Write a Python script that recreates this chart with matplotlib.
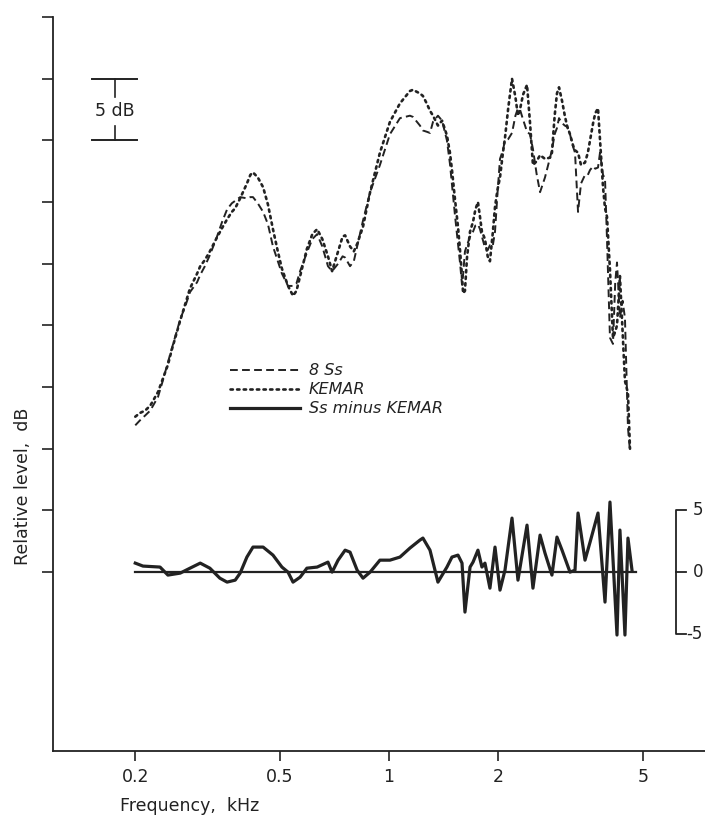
import matplotlib
matplotlib.use("Agg")
import matplotlib.pyplot as plt
import numpy as np

# ---- data (frequency in kHz, level in dB on the plot's relative scale) ----
freq_upper = [0.200, 0.206, 0.213, 0.220, 0.231, 0.237, 0.246, 0.252, 0.266, 0.275,
              0.283, 0.296, 0.302, 0.311, 0.321, 0.334, 0.347, 0.358, 0.369, 0.377,
              0.389, 0.406, 0.415, 0.422, 0.435, 0.450, 0.464, 0.479, 0.494, 0.507,
              0.527, 0.544, 0.556, 0.569, 0.594, 0.615, 0.634, 0.655, 0.679, 0.697,
              0.724, 0.745, 0.757, 0.781, 0.800, 0.817, 0.848, 0.887, 0.944, 1.006,
              1.072, 1.142, 1.164, 1.217, 1.240, 1.270, 1.297, 1.322, 1.364, 1.400,
              1.444, 1.472, 1.491, 1.520, 1.549, 1.570, 1.589, 1.600, 1.619, 1.640,
              1.672, 1.704, 1.730, 1.758, 1.781, 1.803, 1.838, 1.870, 1.897, 1.930,
              1.959, 1.990, 2.022, 2.060, 2.087, 2.130, 2.182, 2.230, 2.266, 2.295,
              2.340, 2.400, 2.445, 2.492, 2.550, 2.607, 2.690, 2.777, 2.811, 2.860,
              2.902, 2.940, 2.997, 3.050, 3.093, 3.152, 3.213, 3.254, 3.317, 3.380,
              3.467, 3.530, 3.580, 3.650, 3.700, 3.765, 3.813, 3.887, 3.936, 3.986,
              4.062, 4.140, 4.200, 4.247, 4.327, 4.400, 4.467, 4.553, 4.612]

kemar = [12.6, 12.9, 13.1, 13.5, 14.6, 15.5, 16.8, 18.0, 20.4, 21.8,
         23.0, 24.2, 24.8, 25.3, 26.0, 27.0, 27.9, 28.6, 29.2, 29.5,
         30.3, 31.5, 32.2, 32.4, 32.0, 31.2, 29.8, 27.8, 26.0, 24.6,
         23.2, 22.4, 22.8, 24.0, 26.2, 27.4, 27.8, 27.0, 25.6, 24.4,
         26.0, 27.2, 27.3, 26.4, 26.0, 26.6, 28.0, 30.8, 34.0, 36.5,
         38.0, 39.0, 39.1, 38.8, 38.6, 38.0, 37.4, 37.0, 36.2, 36.6,
         35.4, 34.0, 32.6, 30.2, 28.0, 26.0, 24.0, 22.6, 22.8, 25.5,
         27.6, 28.4, 29.4, 30.0, 28.8, 27.6, 27.0, 25.6, 25.2, 27.4,
         29.6, 31.0, 32.0, 34.0, 35.2, 37.6, 40.0, 38.5, 37.0, 37.5,
         38.7, 39.5, 36.5, 33.0, 33.3, 33.8, 33.5, 33.6, 34.0, 37.0,
         38.8, 39.3, 38.2, 37.0, 36.2, 35.5, 34.6, 34.2, 34.0, 33.0,
         33.2, 34.0, 35.0, 36.4, 37.2, 37.6, 35.0, 31.2, 29.5, 28.8,
         24.5, 19.0, 19.5, 20.0, 24.0, 19.5, 15.5, 14.5, 10.0]

subjects = [11.9, 12.3, 12.7, 13.1, 14.2, 15.3, 17.0, 18.1, 20.5, 21.6,
            22.7, 23.5, 24.1, 24.8, 25.7, 27.0, 28.4, 29.4, 29.9, 30.1,
            30.4, 30.3, 30.4, 30.4, 29.9, 29.2, 28.2, 26.4, 25.2, 24.2,
            23.2, 23.2, 23.4, 24.4, 25.9, 27.0, 27.4, 26.4, 24.8, 24.4,
            25.0, 25.6, 25.5, 24.8, 25.2, 26.4, 28.5, 30.8, 33.0, 35.5,
            36.8, 37.0, 36.9, 36.2, 35.8, 35.7, 35.6, 36.5, 37.0, 36.6,
            35.0, 33.1, 31.4, 28.9, 26.6, 25.0, 23.3, 24.1, 26.0, 26.5,
            27.2, 27.6, 28.1, 28.2, 27.8, 27.2, 26.3, 26.1, 26.5, 26.4,
            27.6, 30.7, 33.5, 34.2, 35.0, 35.1, 35.6, 37.0, 37.6, 37.5,
            36.7, 35.7, 35.5, 34.3, 32.3, 30.8, 32.0, 33.6, 34.2, 35.5,
            36.0, 36.8, 36.4, 36.2, 36.1, 35.5, 34.5, 34.0, 29.2, 31.5,
            32.2, 32.2, 32.6, 32.9, 32.7, 32.8, 34.0, 32.2, 31.9, 27.0,
            19.0, 18.5, 23.5, 25.1, 20.6, 22.0, 20.6, 11.7, 9.8]

freq_diff = [0.200, 0.210, 0.234, 0.246, 0.266, 0.283, 0.302, 0.321, 0.342, 0.358,
             0.377, 0.389, 0.406, 0.422, 0.450, 0.479, 0.507, 0.527, 0.544, 0.569,
             0.594, 0.634, 0.679, 0.697, 0.724, 0.757, 0.781, 0.817, 0.848, 0.887,
             0.944, 1.006, 1.072, 1.142, 1.217, 1.240, 1.297, 1.364, 1.444, 1.491,
             1.549, 1.589, 1.619, 1.672, 1.704, 1.758, 1.803, 1.838, 1.897, 1.959,
             2.022, 2.087, 2.182, 2.266, 2.400, 2.492, 2.607, 2.690, 2.811, 2.902,
             2.997, 3.152, 3.254, 3.317, 3.467, 3.580, 3.765, 3.936, 4.062, 4.247,
             4.327, 4.467, 4.553, 4.671]

diff = [0.73, 0.49, 0.41, -0.24, -0.08, 0.32, 0.73, 0.32, -0.49, -0.81,
        -0.65, -0.08, 1.22, 2.03, 2.03, 1.38, 0.41, 0.0, -0.81, -0.41,
        0.32, 0.41, 0.81, 0.0, 0.97, 1.78, 1.62, 0.16, -0.49, 0.0,
        0.97, 0.97, 1.22, 1.95, 2.60, 2.76, 1.78, -0.81, 0.41, 1.22,
        1.38, 0.73, -3.24, 0.41, 0.81, 1.78, 0.41, 0.73, -1.30, 2.03,
        -1.46, 0.16, 4.38, -0.65, 3.81, -1.30, 3.00, 1.54, -0.24, 2.84,
        1.78, 0.0, 0.16, 4.79, 0.97, 2.43, 4.79, -2.43, 5.68, -5.10,
        3.41, -5.10, 2.76, 0.16]

xtick_vals = [0.2, 0.5, 1, 2, 5]
xtick_labels = ["0.2", "0.5", "1", "2", "5"]
ytick_vals = [0, 5, 10, 15, 20, 25, 30, 35, 40, 45]
legend_labels = ["8 Ss", "KEMAR", "Ss minus KEMAR"]
diff_scale_labels = ["5", "0", "-5"]

# ---- figure ----
W, H = 705, 819
fig = plt.figure(figsize=(W / 100, H / 100), dpi=100)
ax_left, ax_right, ax_top, ax_bottom = 53, 705, 17, 751
ax = fig.add_axes([ax_left / W, 1 - ax_bottom / H,
                   (ax_right - ax_left) / W, (ax_bottom - ax_top) / H])

ink = "#222222"
ax.set_xscale("log")
# x pixel mapping: 1 kHz at 389 px, 363 px per decade
ppd = 363.0
x_one = 389.0
ax.set_xlim(10 ** ((ax_left - x_one) / ppd), 10 ** ((ax_right - x_one) / ppd))
ax.set_ylim(-14.5, 45)

def fx(px):
    return 10 ** ((px - x_one) / ppd)

def fy(py):
    return (572.0 - py) / 12.33

# curves
ax.plot(freq_upper, subjects, color=ink, lw=1.4, linestyle=(0, (4, 2.2)))
ax.plot(freq_upper, kemar, color=ink, lw=1.9, linestyle=(0, (0.9, 1.6)),
        dash_capstyle="round")
ax.plot(freq_diff, diff, color=ink, lw=2.3, solid_joinstyle="round")
ax.plot([freq_diff[0], fx(636)], [0, 0], color=ink, lw=1.6)

# spines & ticks
for s in ["top", "right"]:
    ax.spines[s].set_visible(False)
for s in ["left", "bottom"]:
    ax.spines[s].set_linewidth(1.3)
    ax.spines[s].set_color(ink)
ax.set_xticks(xtick_vals)
ax.set_xticklabels(xtick_labels)
ax.xaxis.set_minor_locator(matplotlib.ticker.NullLocator())
ax.set_yticks(ytick_vals)
ax.set_yticklabels([])
ax.tick_params(axis="x", direction="out", length=7, width=1.2, pad=5,
               labelsize=12.5, colors=ink)
ax.tick_params(axis="y", direction="out", length=8, width=1.2, colors=ink)

# axis labels
fig.text(120 / W, 1 - 806 / H, "Frequency,  kHz", fontsize=12.5, color=ink,
         ha="left", va="center")
fig.text(23 / W, 1 - 486 / H, "Relative level,  dB", fontsize=12.5, color=ink,
         rotation=90, ha="center", va="center")

# 5 dB scale bar
bx0, bx1, bxc = fx(92), fx(137), fx(115)
ax.plot([bx0, bx1], [40, 40], color=ink, lw=1.4)
ax.plot([bx0, bx1], [35, 35], color=ink, lw=1.4)
ax.plot([bxc, bxc], [40, 38.5], color=ink, lw=1.2)
ax.plot([bxc, bxc], [36.2, 35], color=ink, lw=1.2)
ax.text(bxc, 37.35, "5 dB", fontsize=12.5, color=ink, ha="center", va="center")

# legend (drawn by hand to match layout)
lx0, lx1, ltx = fx(230), fx(300), fx(309)
rows = [fy(370), fy(389), fy(408)]
styles = [dict(lw=1.4, linestyle=(0, (4, 2.2))),
          dict(lw=1.9, linestyle=(0, (0.9, 1.6)), dash_capstyle="round"),
          dict(lw=2.3, linestyle="-")]
for yy, lab, st in zip(rows, legend_labels, styles):
    ax.plot([lx0, lx1], [yy, yy], color=ink, **st)
    ax.text(ltx, yy, lab, fontsize=11.5, style="italic", color=ink,
            ha="left", va="center")

# difference scale bracket on the right
sx, sx2 = fx(676), fx(686)
ax.plot([sx2, sx, sx, sx2], [5, 5, -5, -5], color=ink, lw=1.3, clip_on=False)
ax.plot([sx, sx2], [0, 0], color=ink, lw=1.3, clip_on=False)
for val, lab in zip([5, 0, -5], diff_scale_labels):
    ax.text(fx(703), val, lab, fontsize=12, color=ink,
            ha="right", va="center", clip_on=False)

fig.savefig("out.png", dpi=100)
